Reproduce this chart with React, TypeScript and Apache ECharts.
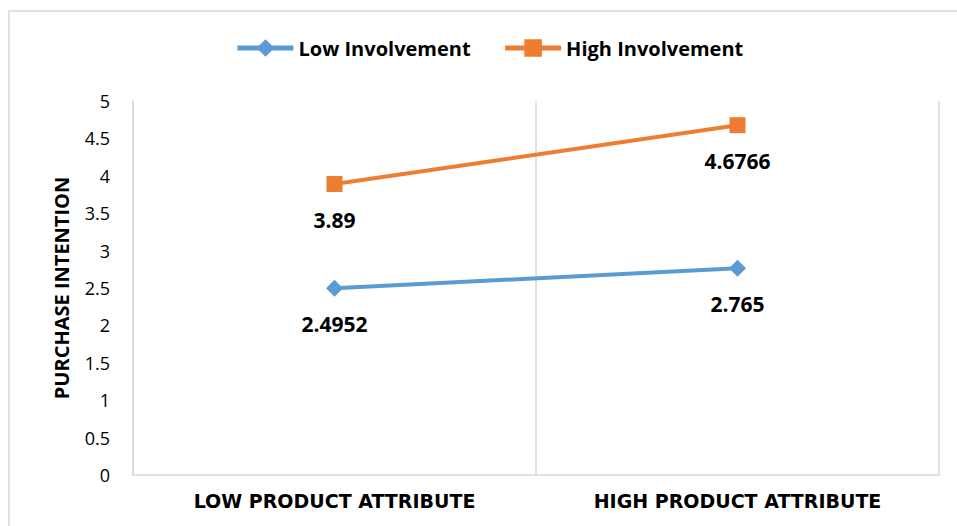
import React, { useEffect, useRef } from "react";
import * as echarts from "echarts";

const categories = ["LOW PRODUCT ATTRIBUTE", "HIGH PRODUCT ATTRIBUTE"];
const lowInvolvement = [2.4952, 2.765];
const highInvolvement = [3.89, 4.6766];
const seriesNames = ["Low Involvement", "High Involvement"];
const yAxisTitle = "PURCHASE INTENTION";

const BLUE = "#5B9BD5";
const ORANGE = "#ED7D31";
const GRID = "#d9d9d9";

export default function App() {
  const ref = useRef<HTMLDivElement>(null);
  useEffect(() => {
    if (!ref.current) return;
    const chart = echarts.init(ref.current, undefined, { renderer: "svg" });
    const labelStyle = {
      show: true,
      position: "bottom" as const,
      distance: 17,
      color: "#000",
      fontFamily: "Open Sans",
      fontWeight: "bold" as const,
      fontSize: 21,
    };
    chart.setOption({
      animation: false,
      backgroundColor: "#fff",
      graphic: [
        {
          type: "rect",
          shape: { x: 9, y: 11, width: 970, height: 540 },
          style: { fill: "none", stroke: GRID, lineWidth: 1.5 },
          silent: true,
        },
      ],
      legend: {
        left: 235,
        top: 38,
        padding: 0,
        itemWidth: 56,
        itemHeight: 22,
        itemGap: 32,
        lineStyle: { width: 5 },
        textStyle: {
          color: "#000",
          fontFamily: "Open Sans",
          fontWeight: "bold",
          fontSize: 20,
        },
        data: seriesNames,
      },
      grid: { left: 133, right: 18, top: 101, bottom: 51, containLabel: false },
      xAxis: {
        type: "category",
        data: categories,
        boundaryGap: true,
        axisLine: { show: true, lineStyle: { color: GRID, width: 1.5 } },
        axisTick: { show: false },
        splitLine: { show: true, lineStyle: { color: GRID, width: 1.5 } },
        axisLabel: {
          margin: 16,
          color: "#000",
          fontFamily: "DejaVu Sans",
          fontWeight: "bold",
          fontSize: 19,
        },
      },
      yAxis: {
        type: "value",
        min: 0,
        max: 5,
        interval: 0.5,
        name: yAxisTitle,
        nameLocation: "middle",
        nameGap: 62,
        nameTextStyle: {
          color: "#000",
          fontFamily: "Open Sans",
          fontWeight: "bold",
          fontSize: 20,
        },
        axisLine: { show: true, lineStyle: { color: GRID, width: 1.5 } },
        axisTick: { show: false },
        splitLine: { show: false },
        axisLabel: {
          margin: 23,
          color: "#000",
          fontFamily: "Open Sans",
          fontSize: 18,
        },
      },
      series: [
        {
          name: seriesNames[0],
          type: "line",
          data: lowInvolvement,
          symbol: "diamond",
          symbolSize: 17,
          lineStyle: { color: BLUE, width: 4 },
          itemStyle: { color: BLUE },
          label: labelStyle,
        },
        {
          name: seriesNames[1],
          type: "line",
          data: highInvolvement,
          symbol: "rect",
          symbolSize: 16,
          lineStyle: { color: ORANGE, width: 4 },
          itemStyle: { color: ORANGE },
          label: labelStyle,
        },
      ],
    });
    return () => chart.dispose();
  }, []);
  return (
    <div
      ref={ref}
      style={{ position: "fixed", left: 0, top: 0, width: 957, height: 526, background: "#fff" }}
    />
  );
}
